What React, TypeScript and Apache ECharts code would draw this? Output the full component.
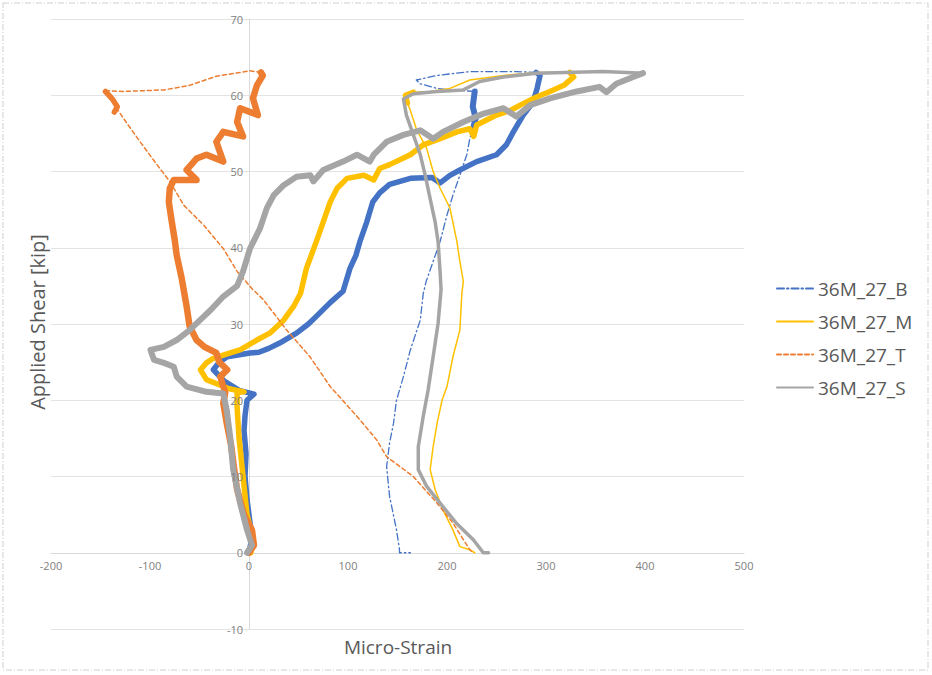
import React, { useEffect, useRef } from "react";
import * as echarts from "echarts";

// ---- tick values ----
const xTicks = { min: -200, max: 500, step: 100 };
const yTicks = { min: -10, max: 70, step: 10 };

const seriesNames = ["36M_27_B", "36M_27_M", "36M_27_T", "36M_27_S"];

// ---- 36M_27_B ----
const bLoading: number[][] = [
  [0, 0], [3, 2], [1, 4], [-2, 7], [-4, 10], [-3, 13], [-5, 16], [-4, 18], [-2, 20], [5, 20.8],
  [-10, 21.3], [-25, 22.5], [-36, 24], [-30, 25], [-22, 25.7], [1, 26.2], [10, 26.3], [20, 26.8],
  [31, 27.5], [48, 28.8], [60, 30], [68, 31], [82, 32.8], [95, 34.3], [102, 37.3], [108, 39],
  [112, 40.8], [119, 43.4], [125, 46], [132, 47.2], [142, 48.3], [163, 49.1], [185, 49.2],
  [193, 48.5], [203, 49.5], [213, 50.2], [230, 51.3], [250, 52.2], [260, 53.5], [267, 55.2],
  [277, 57.4], [287, 59.1], [291, 60.9], [294, 62.6], [290, 63],
];
const bUnloadTop: number[][] = [
  [290, 63], [270, 63.1], [223, 63.1], [190, 62.6], [169, 62], [173, 61.5], [190, 60.9], [203, 60.7], [228, 60.5],
];
const bPlateau: number[][] = [[228, 60.5], [226, 58.5], [229, 57], [227, 56]];
const bUnloadLow: number[][] = [
  [227, 56], [223, 54.3], [220, 52.2], [213, 49.5], [206, 46.9], [200, 44.3], [193, 40.8], [186, 38.2],
  [179, 35.6], [176, 34], [173, 30.5], [163, 26.6], [156, 23.1], [149, 20], [146, 17], [142, 14.4],
  [139, 11.3], [142, 7.4], [149, 3], [152, 0.4], [152, 0], [163, 0],
];

// ---- 36M_27_M ----
const mLoading: number[][] = [
  [2, 0], [4, 2], [-2, 5], [-6, 10], [-10, 15], [-12, 19], [-12, 21], [-5, 21.1], [-20, 21.5],
  [-43, 22.7], [-49, 24], [-43, 24.9], [-36, 25.5], [-19, 26.2], [-9, 26.6], [8, 27.9], [21, 28.8],
  [35, 30.5], [45, 32.3], [52, 34], [58, 37.3], [68, 40.8], [75, 43.4], [82, 46], [89, 47.8],
  [99, 49.1], [116, 49.5], [126, 48.9], [132, 50.4], [142, 50.9], [163, 52.2], [176, 53.5],
  [193, 54.3], [210, 55.2], [223, 55.6], [227, 54.6], [230, 56.1], [250, 57.4], [264, 58],
  [274, 58.7], [291, 59.8], [304, 60.5], [318, 61.3], [328, 62.4], [324, 63],
];
const mUnloadTop: number[][] = [
  [324, 63], [291, 63], [257, 62.6], [223, 62], [203, 60.9], [183, 60.5], [166, 60.4],
];
const mPlateau: number[][] = [[166, 60.4], [158, 60], [160, 59]];
const mUnloadLow: number[][] = [
  [160, 59], [163, 58], [169, 55.6], [179.5, 53], [186, 50], [193, 47.8], [203, 45.2], [210, 40.8],
  [213, 38.2], [216.5, 35.6], [215, 34], [213, 29.2], [206, 25.7], [200, 21.8], [195, 20], [190, 17],
  [186, 13.9], [183, 10.9], [188, 8.3], [196, 5.6], [206, 3], [213, 0.8], [223, 0.4], [228, 0],
];

// ---- 36M_27_T ----
const tLoading: number[][] = [
  [0, 0], [5, 1], [3, 3], [-5, 5], [-12, 8.3], [-15, 11], [-18, 14], [-22.5, 17], [-26, 19.6],
  [-24, 21], [-29, 23.1], [-22, 24], [-30, 25], [-33, 26.2], [-45, 27], [-53, 27.9], [-60, 29.7],
  [-63, 32.3], [-66, 34.5], [-68, 36], [-73, 39], [-75, 41], [-78, 43.4], [-81, 46], [-80, 47.8],
  [-76, 48.9], [-53, 48.9], [-63, 50.2], [-53, 51.7], [-43, 52.2], [-26, 51.3], [-33, 53.9],
  [-26, 55.2], [-6, 54.6], [-12, 56.5], [-9, 58.3], [9, 57.4], [4, 59.6], [8, 61.3], [14, 62.6], [12, 63],
];
const tUnload: number[][] = [
  [12, 63], [1, 63.2], [-33, 62.5], [-60, 61.3], [-86, 60.7], [-127, 60.5], [-145, 60.6],
  [-140, 59.6], [-133, 58.5], [-137, 59], [-127, 57], [-110, 53.9], [-93, 50.9], [-80, 48.7],
  [-66, 45.6], [-46, 43], [-26, 39.9], [-12, 36.9], [4, 34.5], [14.5, 33.2], [38, 29.2], [61.6, 25.7],
  [82, 21.8], [109, 17.9], [129, 14.8], [139, 12.6], [166, 10], [190, 6.5], [206, 3.9], [223, 0.4], [226, 0],
];
const tPlateau: number[][] = [[-145, 60.5], [-138, 59.5], [-133, 58.5], [-136, 57.8]];

// ---- 36M_27_S ----
const sLoading: number[][] = [
  [-2, 0], [3, 1], [-2, 3], [-9, 6.5], [-16, 10.9], [-19, 15.2], [-22.5, 18.7], [-26, 20.9],
  [-43, 21.1], [-63, 21.8], [-73, 23.1], [-76, 24.4], [-86, 24.9], [-96, 25.3], [-99.5, 26.6],
  [-86, 27], [-73, 27.9], [-60, 29.2], [-49.5, 30.5], [-39, 31.8], [-26, 33.6], [-12, 35], [-6, 36.9],
  [1, 39.9], [11, 42.5], [18, 45.2], [25, 46.9], [35, 48.2], [48, 49.3], [62, 49.5], [65, 48.7],
  [75, 50.2], [95, 51.3], [109, 52.2], [122, 51.3], [126, 52.2], [139, 53.9], [156, 54.8], [173, 55.4],
  [186, 54.3], [196, 55.2], [216.5, 56.5], [237, 57.6], [257, 58.3], [270, 57.2], [284, 58.7],
  [304, 59.6], [331, 60.5], [354, 61.1], [361, 60.4], [371, 61.5], [388, 62.4], [398, 62.9],
];
const sUnload: number[][] = [
  [398, 62.9], [358, 63.1], [290, 62.9], [257, 62.4], [233, 61.8], [216.5, 60.7], [190, 60.5],
  [166, 60.2], [156, 59.5], [159, 57.4], [166, 54.8], [173, 52.2], [178, 49.5], [183, 46.4], [188, 43.4],
  [191, 40.8], [193, 36.9], [194, 34.5], [191, 30.1], [186, 25.7], [181, 21.4], [176, 17.9], [171, 13.9],
  [171, 10.9], [179.5, 8.7], [193, 6.5], [210, 3.8], [226.6, 1.7], [236.7, 0], [242, 0],
];

const colors = { B: "#4472C4", M: "#FFC000", T: "#ED7D31", S: "#A5A5A5" };

function line(name: string, data: number[][], color: string, width: number, type: any, z: number) {
  return {
    name,
    type: "line",
    data,
    symbol: "none",
    showSymbol: false,
    silent: true,
    clip: false,
    z,
    lineStyle: { color, width, type, join: "round", cap: "round" },
    itemStyle: { color },
  };
}

export default function App() {
  const ref = useRef<HTMLDivElement>(null);
  useEffect(() => {
    if (!ref.current) return;
    const chart = echarts.init(ref.current, null, { renderer: "svg" });
    const dashDot = [7, 3, 1.5, 3];
    const dashed = [4, 3];
    const labelStyle = { color: "#808080", fontSize: 11, fontFamily: "Open Sans" };
    chart.setOption({
      animation: false,
      backgroundColor: "#ffffff",
      grid: { left: 51, right: 188, top: 19, bottom: 46 },
      xAxis: {
        type: "value",
        min: xTicks.min,
        max: xTicks.max,
        interval: xTicks.step,
        splitLine: { show: false },
        axisTick: { show: false },
        axisLine: { show: true, onZero: true, lineStyle: { color: "#d9d9d9", width: 1 } },
        axisLabel: { ...labelStyle, margin: -69 },
      },
      yAxis: [
        {
          type: "value",
          min: yTicks.min,
          max: yTicks.max,
          interval: yTicks.step,
          splitLine: { show: true, lineStyle: { color: "#e3e3e3", width: 1 } },
          axisTick: { show: false },
          axisLine: { show: true, onZero: true, lineStyle: { color: "#d9d9d9", width: 1 } },
          axisLabel: { show: false },
        },
        {
          type: "value",
          position: "left",
          offset: 0,
          z: 20,
          min: yTicks.min,
          max: yTicks.max,
          interval: yTicks.step,
          splitLine: { show: false },
          axisTick: { show: false },
          axisLine: { show: false },
          axisLabel: { ...labelStyle, margin: -192 },
        },
      ],
      legend: {
        data: seriesNames,
        orient: "vertical",
        left: 771,
        top: 274,
        itemWidth: 36,
        itemHeight: 14,
        itemGap: 14,
        selectedMode: false,
        itemStyle: { opacity: 0 },
        textStyle: { fontSize: 19, color: "#595959", fontFamily: "Open Sans" },
      },
      graphic: [
        {
          type: "rect",
          shape: { x: 3, y: 3, width: 925, height: 667 },
          style: { fill: "none", stroke: "#cfcfcf", lineWidth: 1, lineDash: [6, 2, 1, 2] },
          silent: true,
        },
        {
          type: "text",
          x: 37,
          y: 322,
          rotation: Math.PI / 2,
          style: {
            text: "Applied Shear [kip]",
            fontSize: 20,
            fontFamily: "Open Sans",
            fill: "#595959",
            align: "center",
            verticalAlign: "middle",
          },
        },
        {
          type: "text",
          x: 398,
          y: 647,
          style: {
            text: "Micro-Strain",
            fontSize: 19,
            fontFamily: "Open Sans",
            fill: "#595959",
            align: "center",
            verticalAlign: "middle",
          },
        },
      ],
      series: [
        line(seriesNames[0], bUnloadTop, colors.B, 1.3, dashDot, 2),
        line(seriesNames[0], bUnloadLow, colors.B, 1.3, dashDot, 2),
        line(seriesNames[0], bPlateau, colors.B, 6, "solid", 2),
        line(seriesNames[0], bLoading, colors.B, 5.5, "solid", 2),
        line(seriesNames[1], mUnloadTop, colors.M, 1.5, "solid", 3),
        line(seriesNames[1], mUnloadLow, colors.M, 1.5, "solid", 3),
        line(seriesNames[1], mPlateau, colors.M, 5.5, "solid", 3),
        line(seriesNames[1], mLoading, colors.M, 5.5, "solid", 3),
        line(seriesNames[2], tUnload, colors.T, 1.5, dashed, 4),
        line(seriesNames[2], tPlateau, colors.T, 5.5, "solid", 4),
        line(seriesNames[2], tLoading, colors.T, 6.5, "solid", 4),
        line(seriesNames[3], sUnload, colors.S, 3.5, "solid", 5),
        line(seriesNames[3], sLoading, colors.S, 6, "solid", 5),
      ],
    });
    return () => chart.dispose();
  }, []);
  return (
    <div
      ref={ref}
      style={{ position: "fixed", left: 0, top: 0, width: 932, height: 675, background: "#fff" }}
    />
  );
}
